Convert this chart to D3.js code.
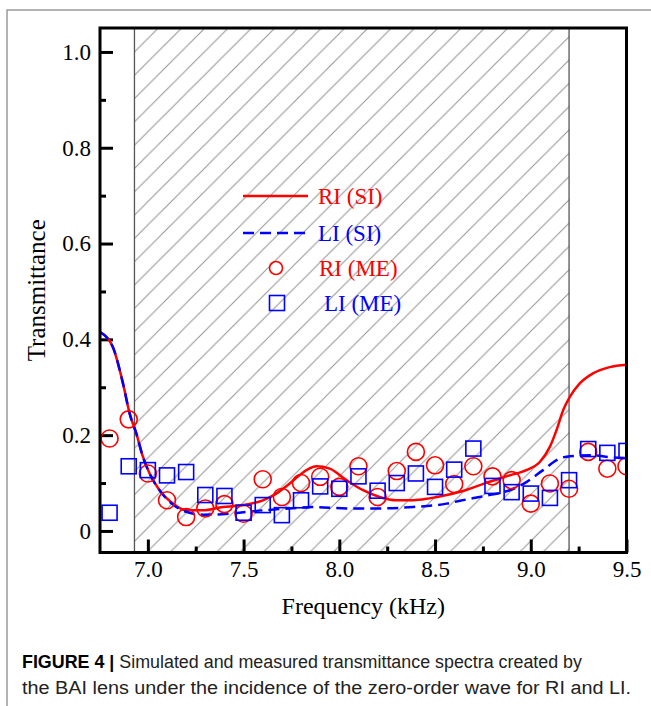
<!DOCTYPE html>
<html><head><meta charset="utf-8">
<script src="https://cdn.jsdelivr.net/npm/d3@7/dist/d3.min.js"></script>
<style>html,body{margin:0;padding:0;background:#fff;}svg{display:block;}</style>
</head><body>
<script>
// ---- data ----
const xTicksMajor = [7.0, 7.5, 8.0, 8.5, 9.0, 9.5];
const xTicksMinor = [7.25, 7.75, 8.25, 8.75, 9.25];
const yTicksMajor = [0, 0.2, 0.4, 0.6, 0.8, 1.0];
const yTicksMinor = [0.1, 0.3, 0.5, 0.7, 0.9];
const bandGap = [6.93, 9.20];

const riSiFreq = [6.75,6.817,6.87,6.905,6.94,6.974,7.009,7.061,7.131,7.20,7.288,7.392,7.497,7.601,7.671,7.741,7.79,7.88,7.95,8.037,8.124,8.21,8.298,8.385,8.47,8.56,8.65,8.77,8.89,8.977,9.047,9.099,9.134,9.169,9.204,9.256,9.325,9.412,9.5];
const riSiVal  = [0.415,0.384,0.308,0.245,0.203,0.155,0.120,0.085,0.057,0.043,0.043,0.050,0.054,0.064,0.078,0.099,0.116,0.135,0.130,0.106,0.085,0.071,0.064,0.064,0.068,0.075,0.084,0.101,0.116,0.127,0.144,0.175,0.210,0.252,0.280,0.308,0.329,0.342,0.347];

const liSiFreq = [6.75,6.817,6.87,6.905,6.94,6.974,7.009,7.061,7.131,7.20,7.29,7.39,7.60,7.74,7.86,8.04,8.21,8.385,8.56,8.63,8.77,8.89,8.977,9.064,9.15,9.204,9.325,9.41,9.5];
const liSiVal  = [0.415,0.384,0.308,0.245,0.203,0.155,0.120,0.085,0.055,0.040,0.034,0.035,0.043,0.047,0.050,0.047,0.047,0.050,0.057,0.063,0.074,0.085,0.102,0.127,0.151,0.156,0.158,0.154,0.152];

const meFreq = [6.8,6.9,7.0,7.1,7.2,7.3,7.4,7.5,7.6,7.7,7.8,7.9,8.0,8.1,8.2,8.3,8.4,8.5,8.6,8.7,8.8,8.9,9.0,9.1,9.2,9.3,9.4,9.5];
const riMe = [0.193,0.233,0.120,0.064,0.029,0.047,0.056,0.036,0.108,0.071,0.100,0.113,0.092,0.135,0.071,0.125,0.165,0.137,0.098,0.135,0.114,0.106,0.057,0.099,0.088,0.165,0.130,0.135];
const liMe = [0.038,0.135,0.127,0.116,0.123,0.075,0.073,0.038,0.054,0.033,0.064,0.093,0.088,0.114,0.084,0.100,0.120,0.092,0.128,0.172,0.094,0.081,0.078,0.069,0.106,0.171,0.163,0.167];

const legendLabels = ["RI (SI)", "LI (SI)", "RI (ME)", "LI (ME)"];
const xTitle = "Frequency (kHz)";
const yTitle = "Transmittance";
const captionBold = "FIGURE 4 |";
const captionLine1 = " Simulated and measured transmittance spectra created by";
const captionLine2 = "the BAI lens under the incidence of the zero-order wave for RI and LI.";

// ---- layout ----
const W = 651, H = 706;
const L = 100, R = 626.5, T = 28, B = 552.5;
const serif = "'Liberation Serif','Times New Roman',serif";
const sans = "'Liberation Sans',Arial,sans-serif";
const RED = "#ff0000", BLUE = "#0000ff";

const svg = d3.select("body").append("svg").attr("width", W).attr("height", H);

// figure frame
svg.append("path").attr("d", `M7,${H} L7,10 L${W},10`).attr("fill","none").attr("stroke","#9a9a9a").attr("stroke-width",1.5);

const x = d3.scaleLinear().domain([6.75, 9.5]).range([L, R]);
const y = d3.scaleLinear().domain([-0.045, 1.05]).range([B, T]);

const defs = svg.append("defs");
const p = defs.append("pattern").attr("id","hatch").attr("patternUnits","userSpaceOnUse")
  .attr("width",23.3).attr("height",23.3);
p.append("path").attr("d","M-2,2 L2,-2 M0,23.3 L23.3,0 M21.3,25.3 L25.3,21.3")
  .attr("stroke","#929292").attr("stroke-width",1);
defs.append("clipPath").attr("id","clip").append("rect")
  .attr("x",L).attr("y",T).attr("width",R-L).attr("height",B-T);

// hatched band
svg.append("rect").attr("x", x(bandGap[0])).attr("y", T)
  .attr("width", x(bandGap[1]) - x(bandGap[0])).attr("height", B - T)
  .attr("fill","url(#hatch)");
bandGap.forEach(v => svg.append("line").attr("x1",x(v)).attr("x2",x(v)).attr("y1",T).attr("y2",B)
  .attr("stroke","#555").attr("stroke-width",1.3));

// axes
const axB = svg.append("g").attr("transform",`translate(0,${B})`)
  .call(d3.axisBottom(x).tickValues(xTicksMajor).tickSize(-13).tickPadding(8).tickFormat(d3.format(".1f")));
const axBm = svg.append("g").attr("transform",`translate(0,${B})`)
  .call(d3.axisBottom(x).tickValues(xTicksMinor).tickSize(-6).tickFormat(""));
const axL = svg.append("g").attr("transform",`translate(${L},0)`)
  .call(d3.axisLeft(y).tickValues(yTicksMajor).tickSize(-13).tickPadding(9).tickFormat(d => d === 0 ? "0" : d3.format(".1f")(d)));
const axLm = svg.append("g").attr("transform",`translate(${L},0)`)
  .call(d3.axisLeft(y).tickValues(yTicksMinor).tickSize(-6).tickFormat(""));
[axB, axBm, axL, axLm].forEach(g => {
  g.select(".domain").remove();
  g.selectAll(".tick line").attr("stroke","#000").attr("stroke-width",3);
  g.selectAll("text").attr("font-family",serif).attr("font-size",23).attr("fill","#000");
});

// curves
const lineGen = (fs, vs) => d3.line().x((d,i)=>x(fs[i])).y((d,i)=>y(vs[i])).curve(d3.curveMonotoneX)(vs);
const plot = svg.append("g").attr("clip-path","url(#clip)");
plot.append("path").attr("d", lineGen(riSiFreq, riSiVal)).attr("fill","none").attr("stroke",RED).attr("stroke-width",2.5);
plot.append("path").attr("d", lineGen(liSiFreq, liSiVal)).attr("fill","none").attr("stroke",BLUE).attr("stroke-width",2.5).attr("stroke-dasharray","11,6");

// markers
plot.selectAll("circle.me").data(riMe).enter().append("circle")
  .attr("cx",(d,i)=>x(meFreq[i])).attr("cy",d=>y(d)).attr("r",8.5)
  .attr("fill","none").attr("stroke",RED).attr("stroke-width",1.6);
const S = 15;
plot.selectAll("rect.me").data(liMe).enter().append("rect")
  .attr("x",(d,i)=>x(meFreq[i])-S/2).attr("y",d=>y(d)-S/2).attr("width",S).attr("height",S)
  .attr("fill","none").attr("stroke",BLUE).attr("stroke-width",1.6);

// frame
svg.append("rect").attr("x",L).attr("y",T).attr("width",R-L).attr("height",B-T)
  .attr("fill","none").attr("stroke","#000").attr("stroke-width",3);

// legend
const lg = svg.append("g");
const rows = [196, 233, 268, 303];
lg.append("line").attr("x1",243).attr("x2",308).attr("y1",rows[0]).attr("y2",rows[0]).attr("stroke",RED).attr("stroke-width",2.5);
lg.append("line").attr("x1",243).attr("x2",308).attr("y1",rows[1]).attr("y2",rows[1]).attr("stroke",BLUE).attr("stroke-width",2.5).attr("stroke-dasharray","11,6");
lg.append("circle").attr("cx",276).attr("cy",rows[2]).attr("r",6.5).attr("fill","none").attr("stroke",RED).attr("stroke-width",1.6);
lg.append("rect").attr("x",277-7.5).attr("y",rows[3]-7.5).attr("width",15).attr("height",15).attr("fill","none").attr("stroke",BLUE).attr("stroke-width",1.6);
const lx = [318, 318, 319, 324];
const lc = [RED, BLUE, RED, BLUE];
legendLabels.forEach((t,i) => lg.append("text").attr("x",lx[i]).attr("y",rows[i]).attr("dy","0.35em")
  .attr("font-family",serif).attr("font-size",23).attr("fill",lc[i]).text(t));

// axis titles
svg.append("text").attr("x",(L+R)/2).attr("y",614).attr("text-anchor","middle")
  .attr("font-family",serif).attr("font-size",24).attr("fill","#000").text(xTitle);
svg.append("text").attr("transform",`translate(45,${(T+B)/2}) rotate(-90)`).attr("text-anchor","middle")
  .attr("font-family",serif).attr("font-size",25).attr("fill","#000").text(yTitle);

// caption
const cap1 = svg.append("text").attr("x",22).attr("y",668).attr("font-family",sans).attr("font-size",18).attr("fill","#222")
  .attr("textLength",560).attr("lengthAdjust","spacingAndGlyphs");
cap1.append("tspan").attr("font-weight","bold").attr("fill","#000").text(captionBold);
cap1.append("tspan").text(captionLine1);
svg.append("text").attr("x",22).attr("y",694).attr("font-family",sans).attr("font-size",18).attr("fill","#222")
  .attr("textLength",609).attr("lengthAdjust","spacingAndGlyphs").text(captionLine2);
</script>
</body></html>
